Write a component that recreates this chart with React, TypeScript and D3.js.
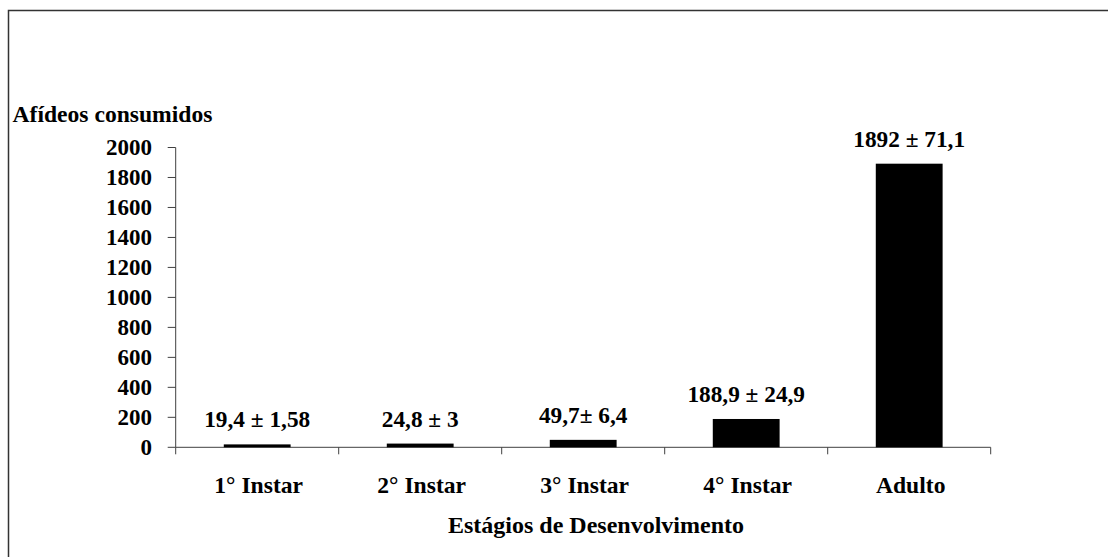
import React from "react";
import * as d3 from "d3";

const categories = ["1° Instar", "2° Instar", "3° Instar", "4° Instar", "Adulto"];
const values = [19.4, 24.8, 49.7, 188.9, 1892];
const valueLabels = ["19,4 ± 1,58", "24,8 ± 3", "49,7± 6,4", "188,9 ± 24,9", "1892 ± 71,1"];
const yTicks = [0, 200, 400, 600, 800, 1000, 1200, 1400, 1600, 1800, 2000];
const yTitle = "Afídeos consumidos";
const xTitle = "Estágios de Desenvolvimento";

const W = 1108;
const H = 557;
const FONT = '"Liberation Serif"';

export default function App() {
  const x = d3.scaleBand<string>().domain(categories).range([175.7, 990.7]).paddingInner(0).paddingOuter(0);
  const y = d3.scaleLinear().domain([0, 2000]).range([447.3, 147.5]);
  const barW = x.bandwidth() * 0.41;
  const axisColor = "#404040";
  const boundaries = [...categories.map((c) => x(c)!), x(categories[categories.length - 1])! + x.bandwidth()];
  const txt = (size: number): React.CSSProperties => ({ fontFamily: FONT, fontWeight: 700, fontSize: `${size}px` });

  return (
    <svg
      width={W}
      height={H}
      style={{ position: "absolute", left: 0, top: 0, background: "#fff" }}
    >
      <rect x={0} y={0} width={W} height={H} fill="#fff" />
      <path d={`M8.5,${H + 2} L8.5,10.5 L${W + 2},10.5`} fill="none" stroke="#333" strokeWidth={1.5} />

      <text x={12.5} y={122} style={txt(23.6)} fill="#000">{yTitle}</text>

      <line x1={175.7} x2={175.7} y1={y(2000)} y2={y(0)} stroke={axisColor} strokeWidth={1} />
      {yTicks.map((t) => (
        <g key={t}>
          <line x1={167.7} x2={175.7} y1={y(t)} y2={y(t)} stroke={axisColor} strokeWidth={1} />
          <text x={152} y={y(t) + 7.5} textAnchor="end" style={txt(23)} fill="#000">
            {t}
          </text>
        </g>
      ))}

      <line x1={175.7} x2={990.7} y1={y(0)} y2={y(0)} stroke={axisColor} strokeWidth={1} />
      {boundaries.map((b, i) => (
        <line key={i} x1={b} x2={b} y1={y(0)} y2={y(0) + 7} stroke={axisColor} strokeWidth={1} />
      ))}

      {categories.map((c, i) => {
        const cx = x(c)! + x.bandwidth() / 2;
        return (
          <g key={c}>
            <rect x={cx - barW / 2} y={y(values[i])} width={barW} height={y(0) - y(values[i])} fill="#000" />
            <text x={cx} y={y(values[i]) - 17} textAnchor="middle" style={txt(23.3)} fill="#000">
              {valueLabels[i]}
            </text>
            <text x={cx + 1.5} y={493} textAnchor="middle" style={txt(23.6)} fill="#000">
              {c}
            </text>
          </g>
        );
      })}

      <text x={596} y={533} textAnchor="middle" style={txt(24)} fill="#000">{xTitle}</text>
    </svg>
  );
}
